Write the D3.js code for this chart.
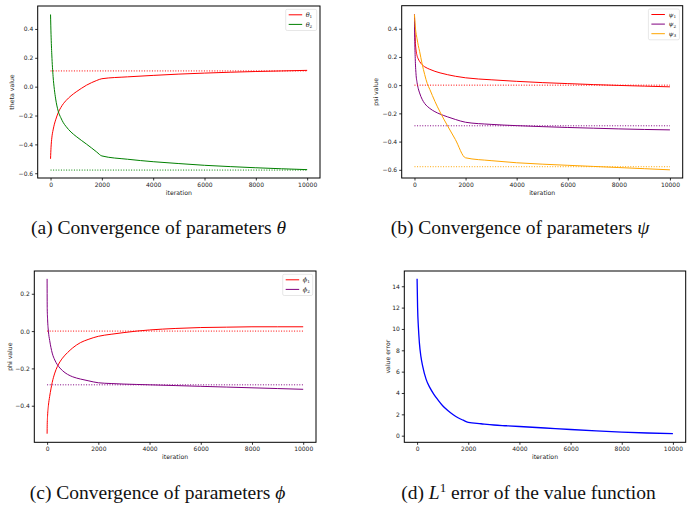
<!DOCTYPE html>
<html>
<head>
<meta charset="utf-8">
<script src="https://cdn.jsdelivr.net/npm/d3@7"></script>
<style>
body { margin: 0; background: #fff; }
svg { display: block; }
</style>
</head>
<body>
<div id="plot"></div>
<script>
var width = 693;
var height = 511;

var xTicks = [0, 2000, 4000, 6000, 8000, 10000];

// (a) theta
var thetaIter = [0, 20, 50, 100, 150, 200, 300, 400, 500, 600, 800, 1000, 1200, 1400, 1600, 1800, 2000, 3000, 4000, 5000, 6000, 7000, 8000, 9000, 10000];
var theta1 = [-0.50, -0.42, -0.355, -0.30, -0.26, -0.23, -0.18, -0.145, -0.118, -0.097, -0.063, -0.036, -0.012, 0.01, 0.028, 0.043, 0.055, 0.068, 0.078, 0.087, 0.094, 0.100, 0.105, 0.109, 0.113];
var theta2 = [0.50, 0.36, 0.22, 0.07, -0.02, -0.085, -0.17, -0.215, -0.25, -0.275, -0.315, -0.345, -0.372, -0.398, -0.425, -0.453, -0.48, -0.503, -0.52, -0.533, -0.545, -0.554, -0.562, -0.569, -0.575];
var thetaTarget = [0.109, -0.578];
var thetaTicks = [-0.6, -0.4, -0.2, 0.0, 0.2, 0.4];

// (b) psi
var psiIter = [0, 10, 30, 60, 100, 150, 200, 300, 400, 500, 600, 800, 1000, 1300, 1600, 2000, 3000, 4000, 5000, 6000, 7000, 8000, 9000, 10000];
var psi1 = [0.50, 0.42, 0.32, 0.25, 0.21, 0.185, 0.168, 0.145, 0.13, 0.12, 0.112, 0.098, 0.087, 0.074, 0.063, 0.052, 0.038, 0.027, 0.018, 0.011, 0.004, -0.002, -0.007, -0.012];
var psi2 = [0.50, 0.34, 0.19, 0.08, 0.02, -0.025, -0.055, -0.10, -0.13, -0.15, -0.165, -0.188, -0.205, -0.225, -0.243, -0.263, -0.278, -0.287, -0.294, -0.300, -0.305, -0.310, -0.314, -0.317];
var psi3 = [0.50, 0.47, 0.42, 0.37, 0.33, 0.28, 0.24, 0.15, 0.075, 0.012, -0.03, -0.115, -0.19, -0.29, -0.385, -0.515, -0.535, -0.55, -0.56, -0.568, -0.576, -0.584, -0.592, -0.60];
var psiTarget = [0.0, -0.288, -0.578];
var psiTicks = [-0.6, -0.4, -0.2, 0.0, 0.2, 0.4];

// (c) phi
var phiIter = [0, 5, 20, 50, 100, 150, 200, 300, 400, 500, 600, 800, 1000, 1300, 1600, 2000, 2500, 3000, 3500, 4000, 5000, 6000, 7000, 8000, 9000, 10000];
var phi1 = [-0.55, -0.50, -0.45, -0.40, -0.35, -0.31, -0.275, -0.225, -0.19, -0.165, -0.145, -0.115, -0.09, -0.062, -0.045, -0.028, -0.017, -0.008, 0.0, 0.006, 0.014, 0.019, 0.021, 0.023, 0.023, 0.023];
var phi2 = [0.28, 0.12, 0.06, 0.0, -0.05, -0.088, -0.118, -0.155, -0.18, -0.198, -0.212, -0.232, -0.245, -0.257, -0.266, -0.277, -0.281, -0.284, -0.286, -0.288, -0.292, -0.296, -0.300, -0.304, -0.308, -0.312];
var phiTarget = [0.0, -0.288];
var phiTicks = [-0.4, -0.2, 0.0, 0.2];

// (d) L1 error of the value function
var errIter = [0, 20, 50, 90, 150, 220, 350, 500, 650, 800, 1000, 1200, 1400, 1600, 1800, 2000, 2500, 3000, 3500, 4000, 5000, 6000, 7000, 8000, 9000, 10000];
var valueError = [14.7, 12.0, 10.2, 8.7, 7.4, 6.5, 5.3, 4.5, 3.9, 3.4, 2.8, 2.35, 1.98, 1.68, 1.45, 1.25, 1.12, 1.0, 0.93, 0.86, 0.72, 0.58, 0.45, 0.34, 0.25, 0.19];
var errTicks = [0, 2, 4, 6, 8, 10, 12, 14];

var canvas = d3.select('#plot')
    .append('svg')
    .attr('width', width)
    .attr('height', height);

canvas.append('rect').attr('width', width).attr('height', height).attr('fill', '#fff');

var fmt1 = d3.format('.1f');

var panels = [
    { left: 37.7, right: 320, top: 6, bottom: 178, yDomain: [-0.633, 0.559], yTicks: thetaTicks, yFormat: fmt1,
      ylabel: 'theta value', ylabelX: 12, iter: thetaIter, sym: 'θ', legendW: 31,
      series: [ { values: theta1, color: 'red', target: thetaTarget[0] },
                { values: theta2, color: 'green', target: thetaTarget[1] } ],
      caption: ['(a) Convergence of parameters ', 'θ'], captionX: 158.5, captionY: 234 },
    { left: 401.7, right: 682.7, top: 5.7, bottom: 178, yDomain: [-0.658, 0.563], yTicks: psiTicks, yFormat: fmt1,
      ylabel: 'psi value', ylabelX: 376, iter: psiIter, sym: 'ψ', legendW: 31,
      series: [ { values: psi1, color: 'red', target: psiTarget[0] },
                { values: psi2, color: 'purple', target: psiTarget[1] },
                { values: psi3, color: 'orange', target: psiTarget[2] } ],
      caption: ['(b) Convergence of parameters ', 'ψ'], captionX: 520, captionY: 234 },
    { left: 34.3, right: 316, top: 271, bottom: 442.3, yDomain: [-0.596, 0.322], yTicks: phiTicks, yFormat: fmt1,
      ylabel: 'phi value', ylabelX: 10, iter: phiIter, sym: 'ϕ', legendW: 30,
      series: [ { values: phi1, color: 'red', target: phiTarget[0] },
                { values: phi2, color: 'purple', target: phiTarget[1] } ],
      caption: ['(c) Convergence of parameters ', 'ϕ'], captionX: 157.5, captionY: 499 },
    { left: 404.3, right: 685.7, top: 271, bottom: 442.3, yDomain: [-0.62, 15.43], yTicks: errTicks, yFormat: d3.format('d'),
      ylabel: 'value error', ylabelX: 387.5, iter: errIter, sym: null,
      series: [ { values: valueError, color: 'blue', target: null } ],
      caption: null, captionX: 528.5, captionY: 499 }
];

panels.forEach(drawPanel);

function drawPanel(p) {
    var x = d3.scaleLinear().domain([-500, 10500]).range([p.left, p.right]);
    var y = d3.scaleLinear().domain(p.yDomain).range([p.bottom, p.top]);
    var g = canvas.append('g');

    var line = d3.line()
        .x(function(d, i) { return x(p.iter[i]); })
        .y(function(d) { return y(d); })
        .curve(d3.curveMonotoneX);

    p.series.forEach(function(s) {
        g.append('path')
            .datum(s.values)
            .attr('d', line)
            .attr('fill', 'none')
            .attr('stroke', s.color)
            .attr('stroke-width', s.color == 'blue' ? 1.3 : 1);
    });

    // dotted true values
    p.series.forEach(function(s) {
        if (s.target === null) return;
        g.append('line')
            .attr('x1', x(0)).attr('x2', x(10000))
            .attr('y1', y(s.target)).attr('y2', y(s.target))
            .attr('stroke', s.color)
            .attr('stroke-width', 1)
            .attr('stroke-dasharray', '1,1.6');
    });

    var xAxis = d3.axisBottom(x).tickValues(xTicks).tickSize(2.5).tickPadding(2).tickFormat(d3.format('d'));
    var yAxis = d3.axisLeft(y).tickValues(p.yTicks).tickSize(2.5).tickPadding(2).tickFormat(p.yFormat);

    var gx = g.append('g').attr('transform', 'translate(0,' + p.bottom + ')').call(xAxis);
    var gy = g.append('g').attr('transform', 'translate(' + p.left + ',0)').call(yAxis);
    [gx, gy].forEach(function(a) {
        a.select('.domain').remove();
        a.attr('font-family', 'DejaVu Sans').attr('font-size', 6);
        a.selectAll('line').attr('stroke', '#000').attr('stroke-width', 0.8);
        a.selectAll('text').attr('fill', '#222');
    });

    // frame
    g.append('rect')
        .attr('x', p.left).attr('y', p.top)
        .attr('width', p.right - p.left).attr('height', p.bottom - p.top)
        .attr('fill', 'none')
        .attr('stroke', '#000')
        .attr('stroke-width', 1);

    g.append('text')
        .attr('x', (p.left + p.right) / 2)
        .attr('y', p.bottom + 17)
        .attr('text-anchor', 'middle')
        .attr('font-family', 'DejaVu Sans')
        .attr('font-size', 6.2)
        .attr('fill', '#222')
        .text('iteration');

    g.append('text')
        .attr('transform', 'translate(' + p.ylabelX + ',' + (p.top + p.bottom) / 2 + ') rotate(-90)')
        .attr('text-anchor', 'middle')
        .attr('dy', '0.35em')
        .attr('font-family', 'DejaVu Sans')
        .attr('font-size', 6.2)
        .attr('fill', '#222')
        .text(p.ylabel);

    // legend
    if (p.sym) {
        var rowH = 9.6;
        var lw = p.legendW;
        var lh = p.series.length * rowH + 2;
        var lg = g.append('g').attr('transform', 'translate(' + (p.right - 3.3 - lw) + ',' + (p.top + 3.3) + ')');
        lg.append('rect')
            .attr('width', lw).attr('height', lh)
            .attr('rx', 1.5)
            .attr('fill', '#fff').attr('fill-opacity', 0.8)
            .attr('stroke', '#d6d6d6').attr('stroke-width', 0.6);
        p.series.forEach(function(s, i) {
            var cy = 5.5 + i * rowH;
            lg.append('line')
                .attr('x1', 3).attr('x2', 16.5)
                .attr('y1', cy).attr('y2', cy)
                .attr('stroke', s.color).attr('stroke-width', 1);
            var t = lg.append('text')
                .attr('x', 20).attr('y', cy + 2.3)
                .attr('font-family', 'DejaVu Serif')
                .attr('font-size', 6.5)
                .attr('fill', '#222');
            t.append('tspan').attr('font-style', 'italic').text(p.sym);
            t.append('tspan').attr('font-size', 4.2).attr('dy', 1.4).text(i + 1);
        });
    }

    // caption
    var c = canvas.append('text')
        .attr('x', p.captionX).attr('y', p.captionY)
        .attr('text-anchor', 'middle')
        .attr('font-family', 'Liberation Serif')
        .attr('font-size', 19.5)
        .attr('fill', '#111');
    if (p.caption) {
        c.append('tspan').text(p.caption[0]);
        c.append('tspan').attr('font-style', 'italic').text(p.caption[1]);
    } else {
        c.append('tspan').text('(d) ');
        c.append('tspan').attr('font-style', 'italic').text('L');
        c.append('tspan').attr('font-size', 13).attr('dy', -7).text('1');
        c.append('tspan').attr('dy', 7).text(' error of the value function');
    }
}
</script>
</body>
</html>
